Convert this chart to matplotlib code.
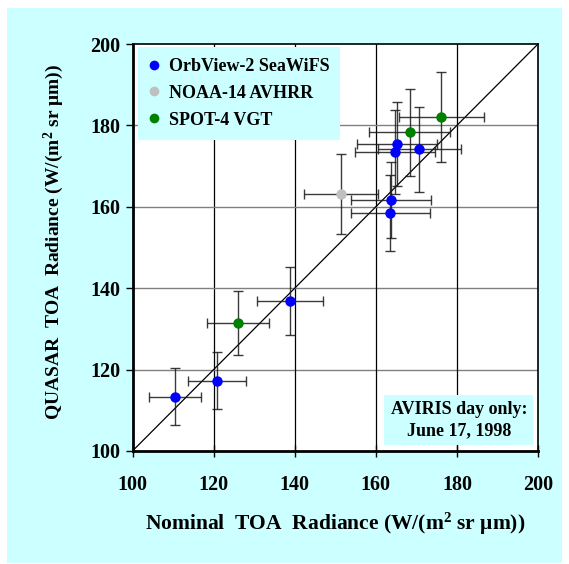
import matplotlib
matplotlib.use("Agg")
import matplotlib.pyplot as plt
from matplotlib.patches import Rectangle
from matplotlib.lines import Line2D

# ---- data ----
sea_x = [110.5, 120.9, 138.9, 163.7, 163.6, 165.2, 164.8, 170.7]
sea_y = [113.3, 117.3, 136.9, 161.7, 158.5, 175.4, 173.4, 174.1]
sea_xerr = [6.5, 7.2, 8.2, 9.8, 9.8, 9.9, 9.9, 10.2]
sea_yerr = [7.0, 7.1, 8.3, 9.4, 9.4, 10.3, 10.3, 10.5]

avh_x = [151.5]
avh_y = [163.1]
avh_xerr = [9.1]
avh_yerr = [9.8]

vgt_x = [126.0, 168.4, 176.2]
vgt_y = [131.4, 178.3, 182.1]
vgt_xerr = [7.6, 10.0, 10.6]
vgt_yerr = [7.9, 10.7, 11.0]

series_names = ["OrbView-2 SeaWiFS", "NOAA-14 AVHRR", "SPOT-4 VGT"]
series_colors = ["#0000FF", "#C0C0C0", "#008000"]
ticks = [100, 120, 140, 160, 180, 200]

plt.rcParams["font.family"] = ["Liberation Serif", "DejaVu Serif"]
plt.rcParams["font.weight"] = "bold"
plt.rcParams["mathtext.fontset"] = "custom"
plt.rcParams["mathtext.rm"] = "Liberation Serif:bold"
plt.rcParams["mathtext.it"] = "Liberation Serif:bold"
plt.rcParams["mathtext.bf"] = "Liberation Serif:bold"

W, H = 569, 564
fig = plt.figure(figsize=(W / 100, H / 100), dpi=100)
fig.patch.set_facecolor("white")
bg = Rectangle((7 / W, 1 - 563 / H), (562 - 7) / W, (563 - 8) / H,
               transform=fig.transFigure, facecolor="#CCFFFF",
               edgecolor="none", zorder=-10)
fig.add_artist(bg)

left, right, top, bottom = 132.5, 538, 44, 451
ax = fig.add_axes([left / W, 1 - bottom / H, (right - left) / W, (bottom - top) / H])
ax.set_zorder(1)
ax.set_facecolor("white")
ax.set_xlim(100, 200)
ax.set_ylim(100, 200)
ax.set_xticks(ticks)
ax.set_yticks(ticks)
ax.set_xticklabels([str(t) for t in ticks], fontsize=14.5, fontweight="bold")
ax.set_yticklabels([str(t) for t in ticks], fontsize=14.5, fontweight="bold")
ax.tick_params(axis="x", direction="inout", length=8, width=1, pad=13)
ax.tick_params(axis="y", direction="out", length=5, width=1, pad=4)

for t in ticks[1:-1]:
    ax.axvline(t, color="black", lw=0.9, zorder=1)
    ax.axhline(t, color="#808080", lw=1.0, zorder=1)

for s in ["left", "bottom"]:
    ax.spines[s].set_linewidth(2)
for s in ["right", "top"]:
    ax.spines[s].set_linewidth(1.2)

ax.plot([100, 200], [100, 200], color="black", lw=0.9, zorder=2)

for xs, ys, xe, ye, c in [(sea_x, sea_y, sea_xerr, sea_yerr, series_colors[0]),
                          (avh_x, avh_y, avh_xerr, avh_yerr, series_colors[1]),
                          (vgt_x, vgt_y, vgt_xerr, vgt_yerr, series_colors[2])]:
    ax.errorbar(xs, ys, xerr=xe, yerr=ye, fmt="none", ecolor="#181818",
                elinewidth=1.0, capsize=3.5, capthick=1.0, zorder=3, alpha=0.85)
    ax.plot(xs, ys, "o", color=c, markersize=7.5, markeredgewidth=0, zorder=4)

handles = [Line2D([], [], marker="o", linestyle="none", color=c, markersize=7,
                  markeredgewidth=0) for c in series_colors]
leg = ax.legend(handles, series_names, loc="upper left",
                bbox_to_anchor=((138 - left) / (right - left), 1 - (47 - top) / (bottom - top)),
                borderaxespad=0, frameon=True, fancybox=False, facecolor="#CCFFFF",
                edgecolor="none", framealpha=1, prop={"family": "Liberation Serif",
                                                      "weight": "bold", "size": 13},
                handlelength=0.6, handletextpad=0.5, labelspacing=0.55,
                borderpad=0.6)
leg.set_zorder(5)

ax.text(180.5, 107.6, "AVIRIS day only:\nJune 17, 1998", ha="center", va="center",
        fontsize=13, fontweight="bold", linespacing=1.3, zorder=5,
        bbox=dict(facecolor="#CCFFFF", edgecolor="none", boxstyle="square,pad=0.35"))

ax.set_xlabel("Nominal  TOA  Radiance (W/(m$^2$ sr μm))", fontsize=15.5,
              fontweight="bold", labelpad=12)
ax.set_ylabel("QUASAR  TOA  Radiance (W/(m$^2$ sr μm))", fontsize=14,
              fontweight="bold")
ax.yaxis.set_label_coords((66 - left) / (right - left), 1 - (242 - top) / (bottom - top))

fig.savefig("out.png", dpi=100)
